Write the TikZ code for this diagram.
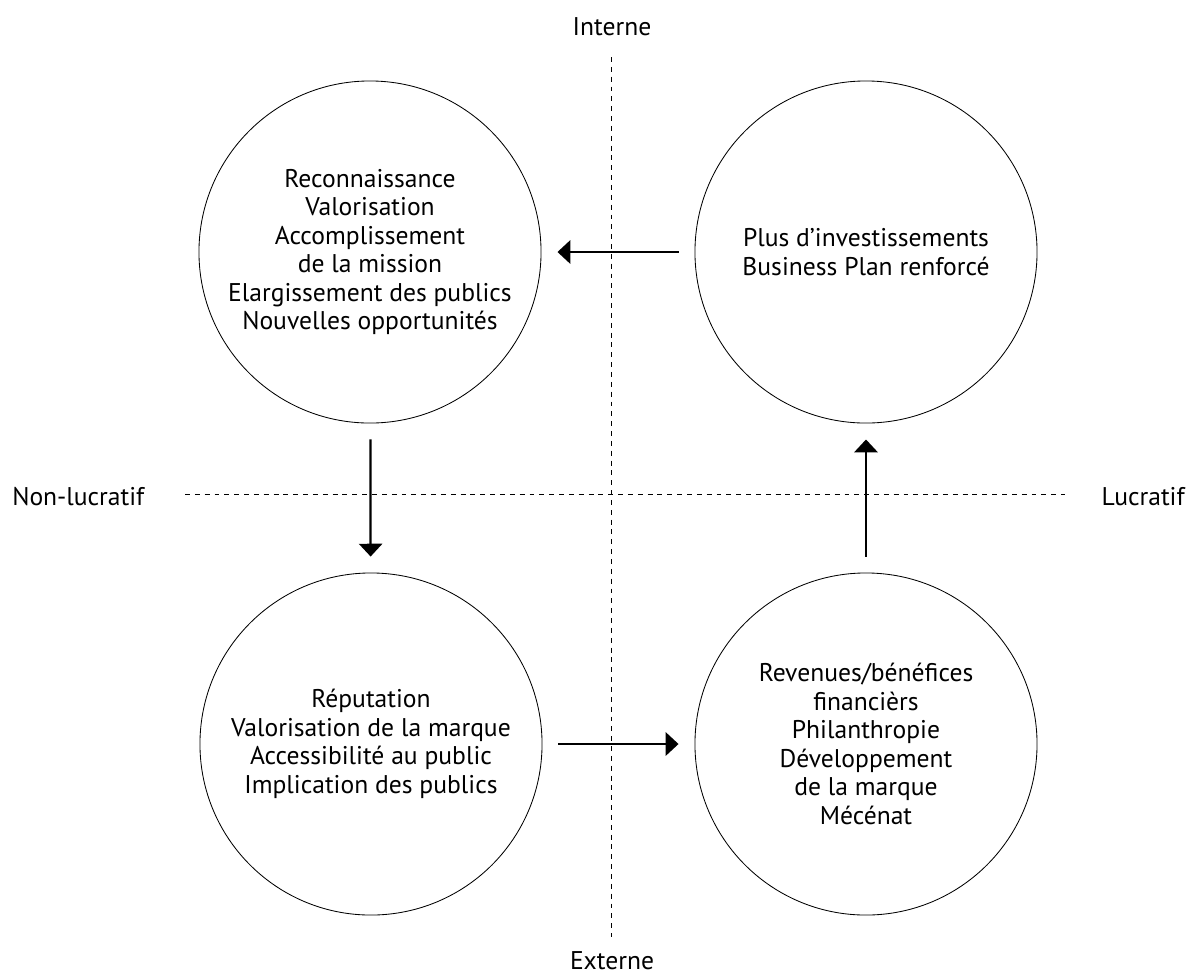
\documentclass[tikz,border=0pt]{standalone}
\usepackage{fontspec}
\setmainfont{PT Sans}
\usetikzlibrary{arrows.meta}

\begin{document}
\begin{tikzpicture}
      [x=0.025cm, y=-0.025cm,
       every node/.style={font=\fontsize{18.2}{20.3}\selectfont},
       cercle/.style={circle, draw, line width=0.6pt, minimum size=8.55cm, inner sep=0pt, align=center},
       fleche/.style={line width=1.6pt, -{Triangle[length=0.32cm, width=0.58cm]}, shorten >=0.4cm, shorten <=0.4cm},
       axe/.style={line width=0.6pt, dash pattern=on 3.5pt off 3.5pt}]
      \useasboundingbox (0,0) rectangle (1186,976);

      \node [cercle] (recon) at (370,252) {Reconnaissance\\Valorisation\\Accomplissement\\de la mission\\Elargissement des publics\\Nouvelles opportunités};
      \node [cercle] (invest) at (866,252) {Plus d’investissements\\Business Plan renforcé};
      \node [cercle] (reput) at (371,744) {Réputation\\Valorisation de la marque\\Accessibilité au public\\Implication des publics};
      \node [cercle] (revenus) at (866,744) {Revenues/bénéfices\\financièrs\\Philanthropie\\Développement\\de la marque\\Mécénat};

      \node [anchor=base, inner sep=0pt] (interne) at (612,35) {Interne};
      \node [anchor=base, inner sep=0pt] (externe) at (612,969) {Externe};
      \node [anchor=base west, inner sep=0pt] (nonlucratif) at (12,505) {Non-lucratif};
      \node [anchor=base east, inner sep=0pt] (lucratif) at (1185,505) {Lucratif};

      \coordinate (haut) at (611,57);
      \coordinate (bas) at (611,937);
      \coordinate (gauche) at (185,494);
      \coordinate (droite) at (1065,494);
      \draw [axe] (haut) -- (bas);
      \draw [axe] (gauche) -- (droite);

      \draw [fleche] (invest) -- (recon);
      \draw [fleche] (recon) -- (reput);
      \draw [fleche] (reput) -- (revenus);
      \draw [fleche] (revenus) -- (invest);
    \end{tikzpicture}
\end{document}
